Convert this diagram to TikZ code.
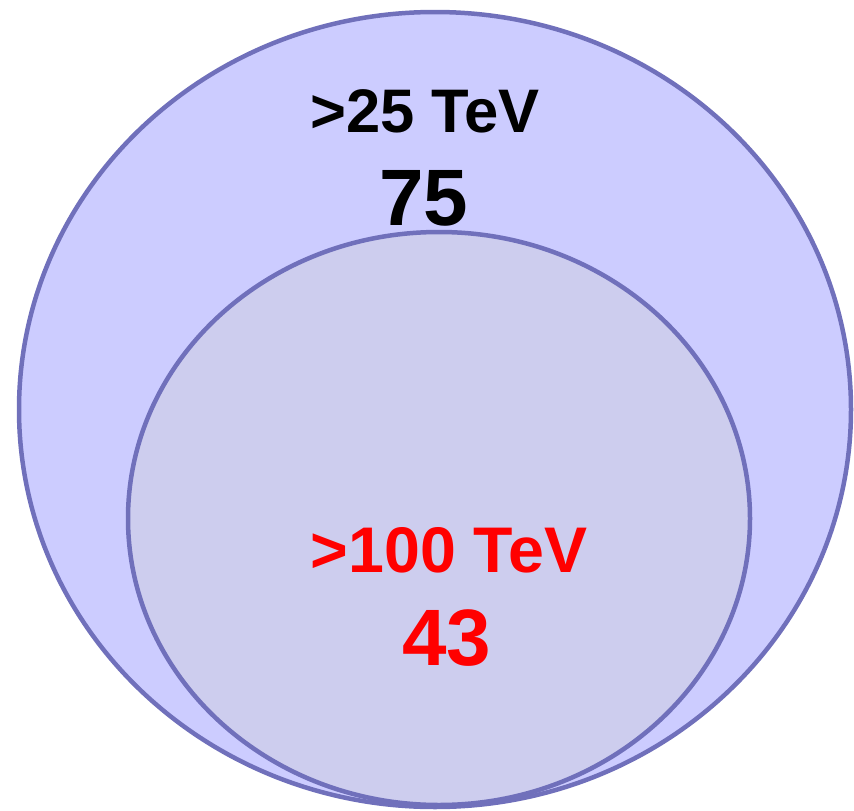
\documentclass[tikz,border=0pt]{standalone}
\usepackage{fontspec}
\setmainfont{Liberation Sans}
\usetikzlibrary{shapes.geometric}
\definecolor{outerfill}{HTML}{CCCCFF}
\definecolor{innerfill}{HTML}{CDCDEE}
\definecolor{rim}{HTML}{7070BB}
\definecolor{hotred}{HTML}{FF0000}
\tikzset{
  setbox/.style={ellipse, draw=rim, line width=4.5pt, inner sep=0pt},
  lbl/.style={anchor=base, inner sep=0pt, font=\bfseries},
}
\begin{document}
\begin{tikzpicture}[x=1pt,y=-1pt]
\useasboundingbox (0,0) rectangle (854,811);
\node[setbox, fill=outerfill, minimum width=832pt, minimum height=795pt] (outer) at (435,409.5) {};
\node[setbox, fill=innerfill, minimum width=622pt, minimum height=573pt] (inner) at (439,518.5) {};
\node[lbl, font=\fontsize{61.5}{62}\selectfont\bfseries] (t25) at (425,132) {>25 TeV};
\node[lbl, font=\fontsize{80}{80}\selectfont\bfseries] (n75) at (424,225) {75};
\node[lbl, text=hotred, font=\fontsize{64.5}{65}\selectfont\bfseries] (t100) at (449,572) {>100 TeV};
\node[lbl, text=hotred, font=\fontsize{80}{80}\selectfont\bfseries] (n43) at (447,665) {43};
\end{tikzpicture}
\end{document}
